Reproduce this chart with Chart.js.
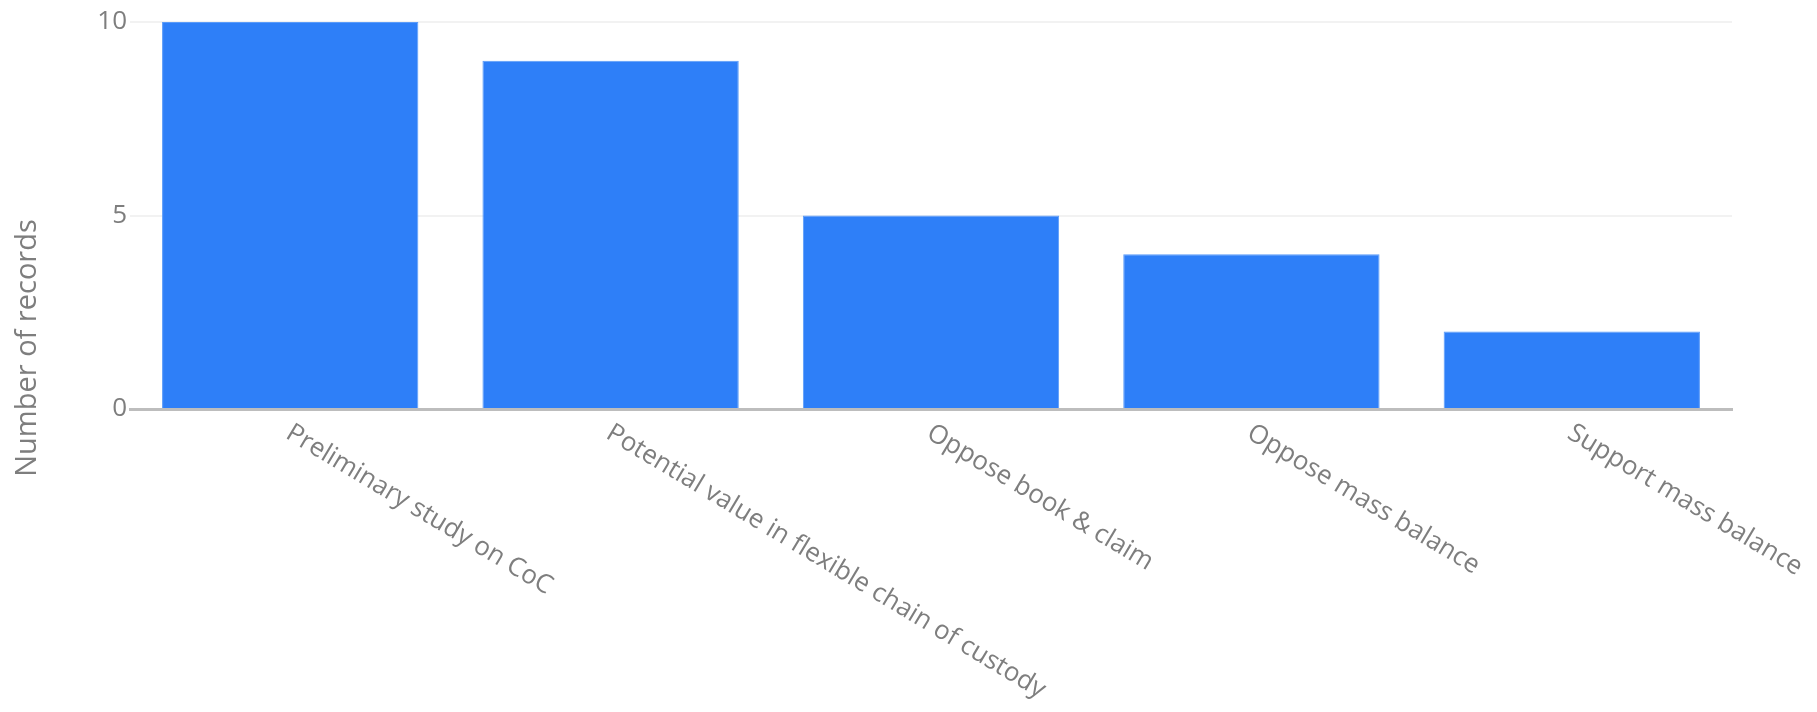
<!DOCTYPE html>
<html>
<head>
    <title>Number of records</title>
    <style>
        body {
            margin: 0;
            padding: 0;
            background-color: #ffffff;
        }
        #wrap {
            width: 1817px;
            height: 712px;
            position: relative;
        }
    </style>
    <script src="https://cdn.jsdelivr.net/npm/chart.js"></script>
</head>
<body>
<div id="wrap"><canvas id="myChart"></canvas></div>
<script>
    // data
    const categories = [
        'Preliminary study on CoC',
        'Potential value in flexible chain of custody',
        'Oppose book & claim',
        'Oppose mass balance',
        'Support mass balance'
    ];
    const records = [10, 9, 5, 4, 2];
    const yTickValues = [0, 5, 10];
    const yTitle = 'Number of records';

    const textColor = '#7e7e7e';
    const fontFamily = '"Open Sans", "Noto Sans", sans-serif';

    // slanted category labels (text runs down-right from the tick)
    const slantedLabels = {
        id: 'slantedLabels',
        afterDraw(chart) {
            const ctx = chart.ctx;
            const xScale = chart.scales.x;
            const y0 = chart.chartArea.bottom + 22;
            ctx.save();
            ctx.font = '26px ' + fontFamily;
            ctx.fillStyle = textColor;
            ctx.textAlign = 'left';
            ctx.textBaseline = 'middle';
            categories.forEach((label, i) => {
                const x = xScale.getPixelForValue(i);
                ctx.save();
                ctx.translate(x - 2, y0);
                ctx.rotate(31 * Math.PI / 180);
                ctx.fillText(label, 0, 0);
                ctx.restore();
            });
            ctx.restore();
        }
    };

    // y axis title, centred on the whole canvas height
    const sideTitle = {
        id: 'sideTitle',
        afterDraw(chart) {
            const ctx = chart.ctx;
            ctx.save();
            ctx.font = '29px ' + fontFamily;
            ctx.fillStyle = textColor;
            ctx.textAlign = 'center';
            ctx.textBaseline = 'middle';
            ctx.translate(28, 348);
            ctx.rotate(-Math.PI / 2);
            ctx.fillText(yTitle, 0, 0);
            ctx.restore();
        }
    };

    const ctx = document.getElementById('myChart').getContext('2d');
    const myChart = new Chart(ctx, {
        type: 'bar',
        data: {
            labels: categories,
            datasets: [{
                label: yTitle,
                data: records,
                backgroundColor: '#2e7ff8',
                borderColor: '#5a9bf9',
                borderWidth: 1,
                barPercentage: 0.8,
                categoryPercentage: 1
            }]
        },
        options: {
            responsive: true,
            maintainAspectRatio: false,
            animation: false,
            layout: {
                padding: { top: 22, right: 85, left: 0, bottom: 0 }
            },
            scales: {
                x: {
                    afterFit: (scale) => { scale.height = 303; },
                    ticks: { display: false },
                    grid: { display: false },
                    border: { display: true, color: '#bdbdbd', width: 3 }
                },
                y: {
                    min: 0,
                    max: 10,
                    afterFit: (scale) => { scale.width = 130; },
                    afterBuildTicks: (scale) => {
                        scale.ticks = yTickValues.map(v => ({ value: v }));
                    },
                    ticks: {
                        color: textColor,
                        padding: 3,
                        font: { size: 26, family: fontFamily }
                    },
                    grid: {
                        color: '#f2f2f2',
                        lineWidth: 2,
                        drawTicks: false
                    },
                    border: { display: false }
                }
            },
            plugins: {
                legend: { display: false },
                tooltip: { enabled: false }
            }
        },
        plugins: [slantedLabels, sideTitle]
    });
</script>
</body>
</html>
